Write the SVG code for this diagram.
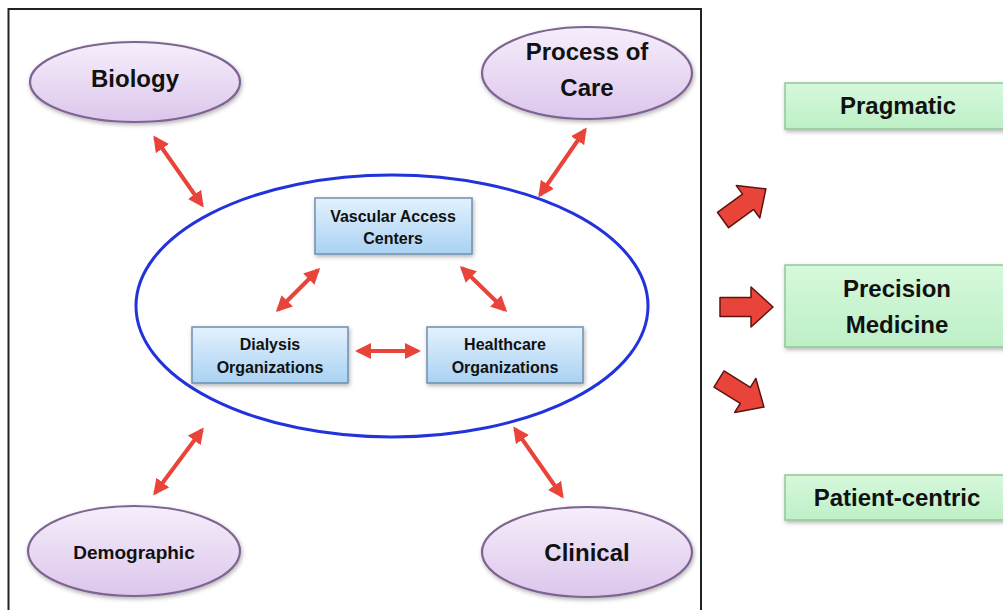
<svg xmlns="http://www.w3.org/2000/svg" width="1003" height="610" viewBox="0 0 1003 610">
  <defs>
    <linearGradient id="lavender" x1="0" y1="0" x2="0" y2="1">
      <stop offset="0" stop-color="#f6eefb"/>
      <stop offset="1" stop-color="#dcc6ec"/>
    </linearGradient>
    <linearGradient id="skyblue" x1="0" y1="0" x2="0" y2="1">
      <stop offset="0" stop-color="#e3f1fd"/>
      <stop offset="1" stop-color="#a9d2f3"/>
    </linearGradient>
    <linearGradient id="mint" x1="0" y1="0" x2="0" y2="1">
      <stop offset="0" stop-color="#d6f8dc"/>
      <stop offset="1" stop-color="#bdf0c6"/>
    </linearGradient>
    <filter id="shadow" x="-20%" y="-20%" width="140%" height="150%">
      <feDropShadow dx="1" dy="2" stdDeviation="2" flood-color="#000" flood-opacity="0.3"/>
    </filter>
    <marker id="head" viewBox="0 0 16 16" refX="13" refY="8" markerWidth="16" markerHeight="16" markerUnits="userSpaceOnUse" orient="auto-start-reverse">
      <path d="M0,0 L16,8 L0,16 Z" fill="#e8443a"/>
    </marker>
    <path id="blockArrow" d="M0,-9.5 L31,-9.5 L31,-20 L53,0 L31,20 L31,9.5 L0,9.5 Z"/>
  </defs>
  <style>
    text { font-family: "Liberation Sans", Arial, sans-serif; font-weight: bold; fill: #111; text-anchor: middle; }
    .factor { fill: url(#lavender); stroke: #7f6390; stroke-width: 2.2; filter: url(#shadow); }
    .org { fill: url(#skyblue); stroke: #6f8fae; stroke-width: 1.5; filter: url(#shadow); }
    .outcome { fill: url(#mint); stroke: #93c796; stroke-width: 1.5; filter: url(#shadow); }
    .link { stroke: #e8443a; stroke-width: 4; fill: none; marker-start: url(#head); marker-end: url(#head); }
    .block { fill: #e8443a; stroke: #5e140e; stroke-width: 1.5; stroke-linejoin: round; }
  </style>

  <rect width="1003" height="610" fill="#fff"/>
  <!-- outer frame around the interaction model -->
  <rect x="8.5" y="9" width="692.5" height="605" fill="none" stroke="#222" stroke-width="2"/>

  <!-- central system ellipse -->
  <ellipse id="system" cx="392" cy="306" rx="256" ry="131" fill="none" stroke="#2233dd" stroke-width="3"/>

  <g id="biology">
    <ellipse class="factor" cx="135" cy="82" rx="105" ry="40"/>
    <text x="135" y="87" font-size="24">Biology</text>
  </g>
  <g id="process-of-care">
    <ellipse class="factor" cx="587" cy="73" rx="105" ry="46"/>
    <text x="587" y="60" font-size="24">Process of</text>
    <text x="587" y="96" font-size="24">Care</text>
  </g>
  <g id="demographic">
    <ellipse class="factor" cx="134" cy="551" rx="106" ry="45"/>
    <text x="134" y="559" font-size="19">Demographic</text>
  </g>
  <g id="clinical">
    <ellipse class="factor" cx="587" cy="552" rx="105" ry="45"/>
    <text x="587" y="561" font-size="24">Clinical</text>
  </g>

  <g id="vascular-access-centers">
    <rect class="org" x="315" y="198" width="157" height="56"/>
    <text x="393" y="222" font-size="16">Vascular Access</text>
    <text x="393" y="244" font-size="16">Centers</text>
  </g>
  <g id="dialysis-organizations">
    <rect class="org" x="192" y="327" width="156" height="56"/>
    <text x="270" y="350" font-size="16">Dialysis</text>
    <text x="270" y="373" font-size="16">Organizations</text>
  </g>
  <g id="healthcare-organizations">
    <rect class="org" x="427" y="327" width="156" height="56"/>
    <text x="505" y="350" font-size="16">Healthcare</text>
    <text x="505" y="373" font-size="16">Organizations</text>
  </g>

  <g id="pragmatic">
    <rect class="outcome" x="785" y="83" width="230" height="46"/>
    <text x="898" y="114" font-size="24">Pragmatic</text>
  </g>
  <g id="precision-medicine">
    <rect class="outcome" x="785" y="265" width="230" height="82"/>
    <text x="897" y="297" font-size="24">Precision</text>
    <text x="897" y="333" font-size="24">Medicine</text>
  </g>
  <g id="patient-centric">
    <rect class="outcome" x="785" y="475" width="230" height="45"/>
    <text x="897" y="506" font-size="24">Patient-centric</text>
  </g>

  <g id="connectors">
    <line class="link" x1="155" y1="138" x2="202" y2="205"/>
    <line class="link" x1="585" y1="130" x2="540" y2="195"/>
    <line class="link" x1="202" y1="430" x2="155" y2="493"/>
    <line class="link" x1="515" y1="429" x2="562" y2="496"/>
    <line class="link" x1="318" y1="270" x2="278" y2="310"/>
    <line class="link" x1="462" y1="268" x2="505" y2="310"/>
    <line class="link" x1="358" y1="351" x2="418" y2="351"/>
    <use href="#blockArrow" class="block" transform="translate(723,220) rotate(-36)"/>
    <use href="#blockArrow" class="block" transform="translate(720,307)"/>
    <use href="#blockArrow" class="block" transform="translate(719,379) rotate(32)"/>
  </g>
</svg>
